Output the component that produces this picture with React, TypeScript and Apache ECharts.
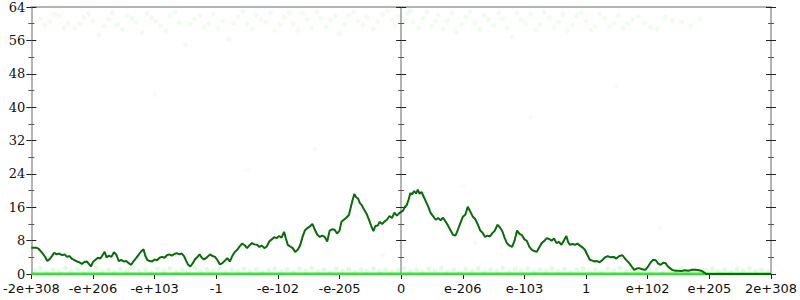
import React, { useEffect, useRef } from "react";
import * as echarts from "echarts";

const xTickLabels = ["-2e+308", "-e+206", "-e+103", "-1", "-e-102", "-e-205", "0", "e-206", "e-103", "1", "e+102", "e+205", "2e+308"];

const linePoints = [
  [-6.0, 6.3], [-5.92, 6.3], [-5.88, 6.0], [-5.82, 5.0], [-5.78, 4.2], [-5.74, 3.1], [-5.7, 3.6], [-5.66, 4.4], [-5.63, 5.1], [-5.59, 4.7], [-5.55, 4.9], [-5.5, 4.5], [-5.46, 4.7], [-5.42, 4.1], [-5.38, 4.3], [-5.34, 3.6], [-5.3, 3.3], [-5.26, 3.0], [-5.22, 2.8], [-5.18, 2.4], [-5.14, 2.9], [-5.1, 3.0], [-5.06, 2.3], [-5.03, 1.8], [-5.0, 2.9], [-4.96, 3.4], [-4.92, 3.9], [-4.88, 3.7], [-4.84, 4.6], [-4.81, 5.3], [-4.78, 4.0], [-4.74, 4.4], [-4.7, 4.1], [-4.66, 5.2], [-4.62, 4.6], [-4.58, 3.1], [-4.54, 3.4], [-4.5, 3.0], [-4.46, 3.1], [-4.42, 2.6], [-4.38, 2.2], [-4.34, 3.1], [-4.3, 3.8], [-4.26, 4.6], [-4.22, 5.4], [-4.18, 5.9], [-4.15, 4.3], [-4.12, 3.4], [-4.08, 3.1], [-4.04, 3.0], [-4.0, 3.5], [-3.96, 3.3], [-3.92, 3.9], [-3.88, 4.1], [-3.84, 3.9], [-3.8, 4.5], [-3.76, 4.7], [-3.72, 4.4], [-3.68, 4.8], [-3.64, 5.0], [-3.6, 4.7], [-3.56, 4.9], [-3.52, 4.2], [-3.49, 3.2], [-3.46, 2.3], [-3.42, 1.8], [-3.38, 2.6], [-3.35, 3.4], [-3.31, 4.0], [-3.27, 4.7], [-3.24, 4.0], [-3.2, 3.5], [-3.15, 4.0], [-3.1, 4.7], [-3.06, 4.3], [-3.02, 4.1], [-2.98, 3.3], [-2.94, 2.3], [-2.9, 2.6], [-2.86, 3.2], [-2.82, 3.8], [-2.78, 3.0], [-2.74, 4.3], [-2.7, 5.3], [-2.66, 5.8], [-2.62, 6.6], [-2.58, 7.3], [-2.54, 6.9], [-2.5, 6.2], [-2.46, 6.9], [-2.42, 7.4], [-2.38, 7.1], [-2.34, 7.0], [-2.3, 6.5], [-2.26, 6.8], [-2.22, 6.2], [-2.18, 6.6], [-2.14, 7.8], [-2.1, 8.3], [-2.06, 8.8], [-2.02, 8.6], [-1.98, 9.1], [-1.94, 8.7], [-1.9, 10.1], [-1.87, 8.5], [-1.84, 7.0], [-1.8, 6.6], [-1.76, 6.2], [-1.72, 5.3], [-1.68, 5.8], [-1.64, 6.8], [-1.6, 8.9], [-1.56, 10.5], [-1.52, 11.0], [-1.48, 11.4], [-1.44, 12.0], [-1.4, 10.6], [-1.36, 9.4], [-1.32, 8.9], [-1.28, 9.2], [-1.24, 8.9], [-1.2, 7.8], [-1.16, 10.4], [-1.12, 10.7], [-1.08, 10.6], [-1.04, 9.7], [-1.0, 10.4], [-0.97, 12.5], [-0.93, 13.0], [-0.89, 13.5], [-0.85, 14.1], [-0.82, 15.8], [-0.79, 17.6], [-0.76, 19.2], [-0.73, 18.4], [-0.7, 18.1], [-0.67, 17.0], [-0.64, 16.5], [-0.6, 15.4], [-0.56, 14.4], [-0.52, 12.9], [-0.48, 11.3], [-0.45, 10.3], [-0.42, 11.5], [-0.38, 11.6], [-0.35, 12.5], [-0.31, 12.0], [-0.27, 12.6], [-0.23, 13.0], [-0.19, 13.9], [-0.15, 13.4], [-0.11, 14.7], [-0.07, 14.0], [-0.03, 14.6], [0.0, 14.9], [0.03, 15.2], [0.06, 16.1], [0.09, 16.5], [0.12, 17.8], [0.15, 19.4], [0.18, 19.1], [0.21, 19.9], [0.24, 19.3], [0.27, 20.2], [0.3, 19.2], [0.33, 19.7], [0.36, 18.7], [0.4, 17.4], [0.44, 16.1], [0.48, 14.6], [0.52, 13.8], [0.56, 13.0], [0.6, 13.4], [0.64, 12.9], [0.68, 13.5], [0.72, 12.6], [0.76, 11.6], [0.8, 10.5], [0.84, 9.4], [0.88, 9.2], [0.92, 10.6], [0.96, 12.2], [1.0, 13.7], [1.04, 14.2], [1.08, 16.1], [1.12, 15.0], [1.16, 13.8], [1.2, 13.2], [1.24, 12.0], [1.28, 10.5], [1.32, 9.9], [1.36, 8.9], [1.4, 9.2], [1.44, 9.0], [1.48, 9.8], [1.52, 10.4], [1.56, 11.8], [1.6, 11.2], [1.64, 10.3], [1.68, 8.6], [1.72, 7.3], [1.76, 6.8], [1.8, 6.5], [1.84, 8.0], [1.88, 10.4], [1.92, 9.6], [1.96, 9.3], [2.0, 8.3], [2.04, 7.9], [2.08, 6.5], [2.12, 5.8], [2.16, 5.5], [2.2, 5.3], [2.24, 6.4], [2.28, 7.4], [2.32, 7.9], [2.36, 8.6], [2.4, 8.4], [2.44, 8.0], [2.48, 8.5], [2.52, 7.4], [2.56, 7.7], [2.6, 7.0], [2.64, 8.0], [2.68, 9.1], [2.71, 7.6], [2.74, 7.0], [2.78, 7.2], [2.82, 7.0], [2.86, 7.3], [2.9, 6.8], [2.94, 6.4], [2.98, 5.8], [3.02, 4.6], [3.06, 3.4], [3.1, 3.2], [3.14, 3.0], [3.18, 3.1], [3.22, 2.8], [3.26, 3.3], [3.3, 3.9], [3.35, 4.3], [3.4, 4.0], [3.45, 4.1], [3.49, 3.7], [3.54, 4.3], [3.59, 4.5], [3.62, 3.9], [3.65, 3.4], [3.7, 2.6], [3.74, 1.8], [3.78, 1.0], [3.82, 1.3], [3.86, 1.4], [3.9, 1.2], [3.94, 1.0], [3.97, 1.1], [4.01, 1.9], [4.05, 2.8], [4.09, 3.4], [4.13, 3.3], [4.17, 2.5], [4.21, 2.2], [4.25, 2.7], [4.29, 2.6], [4.32, 1.9], [4.36, 1.4], [4.4, 1.0], [4.44, 0.8], [4.5, 0.8], [4.55, 0.7], [4.6, 0.9], [4.66, 0.8], [4.72, 1.0], [4.78, 1.0], [4.83, 0.9], [4.87, 0.8], [4.91, 0.4], [4.95, 0.0], [6.0, 0.0],
];

const topPoints = [
  [-5.85, 61.2], [-5.7, 60.5], [-5.55, 61.8], [-5.4, 60.1], [-5.3, 58.9], [-5.15, 61.5], [-5.0, 60.7], [-4.9, 57.3], [-4.75, 61.0], [-4.6, 59.8], [-4.45, 62.0], [-4.3, 60.3], [-4.2, 57.8], [-4.05, 61.4], [-3.9, 59.5], [-3.75, 61.9], [-3.6, 60.2], [-3.5, 55.0], [-3.35, 61.1], [-3.2, 59.2], [-3.05, 62.3], [-2.9, 60.6], [-2.8, 56.2], [-2.65, 61.7], [-2.5, 59.9], [-2.35, 62.1], [-2.2, 60.4], [-2.05, 58.4], [-1.9, 61.6], [-1.75, 60.0], [-1.6, 62.4], [-1.45, 59.1], [-1.3, 61.3], [-1.15, 60.8], [-1.0, 57.6], [-0.85, 62.0], [-0.7, 60.5], [-0.55, 61.5], [-0.45, 58.7], [-0.3, 62.2], [-0.15, 60.9], [-0.05, 61.8], [0.1, 62.5], [0.2, 60.3], [0.35, 61.4], [0.5, 59.4], [0.6, 62.1], [0.75, 60.7], [0.9, 57.9], [1.05, 61.6], [1.2, 60.1], [1.35, 62.0], [1.5, 59.6], [1.65, 61.2], [1.8, 56.8], [1.95, 60.9], [2.1, 62.2], [2.25, 59.8], [2.4, 61.5], [2.55, 60.4], [2.7, 58.3], [2.85, 61.9], [3.0, 60.6], [3.15, 59.3], [3.3, 61.3], [3.45, 60.0], [3.6, 58.9], [3.75, 61.0], [3.95, 60.2], [4.15, 58.7], [4.4, 60.8], [4.7, 59.5],
  [-5.78, 59.6], [-5.62, 62.3], [-5.47, 59.0], [-5.22, 60.0], [-5.07, 62.4], [-4.82, 59.4], [-4.68, 62.6], [-4.52, 58.6], [-4.37, 61.3], [-4.12, 62.5], [-3.98, 60.6], [-3.82, 58.3], [-3.67, 62.7], [-3.42, 59.8], [-3.27, 62.0], [-3.12, 60.0], [-2.97, 58.9], [-2.72, 60.1], [-2.57, 62.9], [-2.42, 58.8], [-2.27, 61.0], [-2.12, 62.6], [-1.97, 59.7], [-1.82, 62.7], [-1.67, 58.4], [-1.52, 61.0], [-1.37, 62.8], [-1.22, 59.3], [-1.07, 61.9], [-0.92, 59.9], [-0.77, 62.8], [-0.62, 59.7], [-0.38, 60.4], [-0.22, 63.0], [-0.1, 59.5], [0.04, 60.9], [0.15, 63.1], [0.28, 59.0], [0.42, 62.8], [0.56, 60.6], [0.68, 58.8], [0.82, 62.6], [0.98, 59.9], [1.12, 62.9], [1.28, 58.6], [1.42, 61.0], [1.58, 62.6], [1.72, 59.0], [1.88, 62.5], [2.02, 60.0], [2.18, 58.4], [2.32, 62.7], [2.48, 59.0], [2.62, 62.2], [2.78, 59.7], [2.92, 62.6], [3.08, 58.5], [3.22, 62.3], [3.38, 59.2], [3.52, 62.0], [3.68, 60.1], [3.85, 61.8], [4.05, 59.1], [4.28, 61.6], [4.55, 60.4], [4.85, 61.1],
];

const bottomPoints = [
  [-5.95, 0.8], [-5.85, 1.3], [-5.75, 0.5], [-5.65, 1.0], [-5.55, 0.7], [-5.45, 1.4], [-5.35, 0.6], [-5.25, 1.1], [-5.15, 0.4], [-5.05, 0.9], [-4.95, 1.4], [-4.85, 0.6], [-4.75, 1.0], [-4.65, 0.5], [-4.55, 1.2], [-4.45, 0.8], [-4.35, 1.4], [-4.25, 0.6], [-4.15, 1.0], [-4.05, 0.4], [-3.95, 1.2], [-3.85, 0.7], [-3.75, 1.3], [-3.65, 0.5], [-3.55, 1.0], [-3.45, 0.7], [-3.35, 1.4], [-3.25, 0.6], [-3.15, 1.1], [-3.05, 0.8], [-2.95, 1.2], [-2.85, 0.5], [-2.75, 1.0], [-2.65, 0.7], [-2.55, 1.3], [-2.45, 0.6], [-2.35, 1.1], [-2.25, 0.4], [-2.15, 0.9], [-2.05, 1.3], [-1.95, 0.6], [-1.85, 1.0], [-1.75, 0.5], [-1.65, 1.2], [-1.55, 0.8], [-1.45, 1.4], [-1.35, 0.6], [-1.25, 1.0], [-1.15, 0.4], [-1.05, 1.2], [-0.95, 0.7], [-0.85, 1.1], [-0.75, 0.5], [-0.65, 1.0], [-0.55, 0.7], [-0.45, 1.3], [-0.35, 0.6], [-0.25, 1.0], [-0.15, 0.5], [-0.05, 0.9],
  [0.05, 1.3], [0.15, 0.6], [0.25, 1.0], [0.35, 0.5], [0.45, 1.2], [0.55, 0.8], [0.65, 1.4], [0.75, 0.6], [0.85, 1.0], [0.95, 0.4], [1.05, 1.2], [1.15, 0.7], [1.25, 1.3], [1.35, 0.5], [1.45, 1.0], [1.55, 0.7], [1.65, 1.4], [1.75, 0.6], [1.85, 1.1], [1.95, 0.8], [2.05, 1.2], [2.15, 0.5], [2.25, 1.0], [2.35, 0.7], [2.45, 1.3], [2.55, 0.6], [2.65, 1.1], [2.75, 0.4], [2.85, 0.9], [2.95, 1.3], [3.05, 0.6], [3.15, 1.0], [3.25, 0.5], [3.35, 1.2], [3.45, 0.8], [3.55, 1.4], [3.65, 0.6], [3.75, 1.0], [3.85, 0.4], [3.95, 1.2], [4.05, 0.7], [4.15, 1.1], [4.25, 0.5], [4.35, 1.0], [4.45, 0.7], [4.55, 1.3], [4.65, 0.6], [4.75, 1.0], [4.85, 0.5], [4.95, 0.9], [5.05, 1.3], [5.15, 0.6], [5.25, 1.0], [5.35, 0.5], [5.45, 1.2], [5.55, 0.8], [5.65, 1.4], [5.75, 0.6], [5.85, 1.0], [5.95, 0.5],
];

const strayPoints = [[-0.3, 4.5], [0.9, 9.0], [1.2, 7.5], [-2.5, 25.0], [2.1, 37.5], [-1.4, 30.0], [3.5, 45.0], [-4.0, 43.0], [1.0, 21.0], [4.2, 11.0]];

function yAx(position: string, onZero: boolean, inside: boolean, labels: boolean) {
  return {
    type: "value",
    min: 0,
    max: 64,
    interval: 8,
    position,
    axisLine: { show: true, onZero, lineStyle: { color: "#b3b3b3", width: 2 } },
    axisTick: { show: true, inside, length: 5, lineStyle: { color: "#222", width: 1 } },
    minorTick: { show: true, splitNumber: 2, length: 3, lineStyle: { color: "#555", width: 1 } },
    axisLabel: labels
      ? { show: true, fontFamily: "DejaVu Serif", fontSize: 13, color: "#111", margin: 6 }
      : { show: false },
    splitLine: { show: false },
  };
}

export default function App() {
  const ref = useRef<HTMLDivElement>(null);
  useEffect(() => {
    if (!ref.current) return;
    const chart = echarts.init(ref.current, undefined, { renderer: "svg" });
    chart.setOption({
      animation: false,
      backgroundColor: "#fff",
      grid: { left: 27, right: 27, top: 7, bottom: 26, containLabel: false },
      xAxis: [
        {
          type: "value",
          min: -6,
          max: 6,
          interval: 1,
          axisLine: { show: true, onZero: false, lineStyle: { color: "#b3b3b3", width: 2 } },
          axisTick: { show: true, length: 5, lineStyle: { color: "#222" } },
          axisLabel: {
            fontFamily: "DejaVu Sans",
            fontSize: 13,
            color: "#111",
            margin: 8,
            formatter: (v: number) => xTickLabels[Math.round(v) + 6] ?? "",
          },
          splitLine: { show: false },
        },
        {
          type: "value",
          min: -6,
          max: 6,
          interval: 1,
          position: "top",
          axisLine: { show: true, onZero: false, lineStyle: { color: "#b3b3b3", width: 2 } },
          axisTick: { show: false },
          axisLabel: { show: false },
          splitLine: { show: false },
        },
      ],
      yAxis: [
        yAx("left", false, false, true),
        yAx("left", false, true, false),
        yAx("left", true, false, false),
        yAx("left", true, true, false),
        yAx("right", false, false, false),
        yAx("right", false, true, false),
      ],
      series: [
        {
          type: "scatter",
          data: topPoints,
          symbolSize: 5,
          itemStyle: { color: "rgb(140,235,140)", opacity: 0.14 },
          silent: true,
        },
        {
          type: "scatter",
          data: bottomPoints,
          symbolSize: 5,
          itemStyle: { color: "rgb(140,235,140)", opacity: 0.25 },
          silent: true,
        },
        {
          type: "scatter",
          data: strayPoints,
          symbolSize: 5,
          itemStyle: { color: "rgb(140,235,140)", opacity: 0.1 },
          silent: true,
        },
        {
          type: "line",
          data: [[-6, 0], [6, 0]],
          symbol: "none",
          lineStyle: { color: "#3fdc3f", width: 3 },
          silent: true,
        },
        {
          type: "line",
          data: linePoints,
          symbol: "none",
          lineStyle: { color: "#0a6b0a", width: 2 },
          silent: true,
        },
      ],
    });
    return () => chart.dispose();
  }, []);
  return <div ref={ref} style={{ width: 800, height: 300, position: "absolute", left: 0, top: 0 }} />;
}
